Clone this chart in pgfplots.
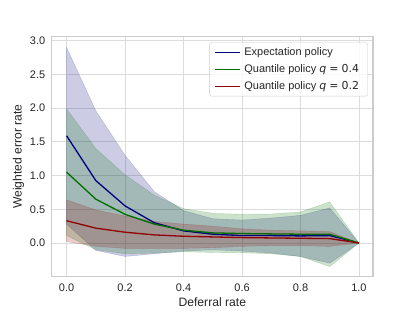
\documentclass[border=0pt]{standalone}
\usepackage{fontspec}
\setmainfont{Liberation Sans}
\newfontfamily\dejavu{DejaVu Sans}
\usepackage{pgfplots}
\pgfplotsset{compat=1.18}
\definecolor{txt}{RGB}{38,38,38}
\definecolor{gridc}{RGB}{220,220,220}
\definecolor{spine}{RGB}{204,204,204}
\definecolor{cblue}{RGB}{0,0,128}
\definecolor{cgreen}{RGB}{0,110,0}
\definecolor{cred}{RGB}{145,0,0}
\begin{document}
\begin{tikzpicture}
\path[fill=white] (0,0) rectangle (415bp,311bp);
\begin{axis}[
  at={(51.7bp,34.3bp)}, anchor=south west,
  width=321.3bp, height=240bp, scale only axis,
  xmin=-0.051, xmax=1.048, ymin=-0.5, ymax=3.06,
  xtick={0,0.2,0.4,0.6,0.8,1.0},
  ytick={0,0.5,1.0,1.5,2.0,2.5,3.0},
  /pgf/number format/assume math mode=true,
  /pgf/number format/.cd, fixed, fixed zerofill, precision=1, /pgfplots/.cd,
  grid=major,
  grid style={draw=gridc, line width=0.9bp},
  axis line style={draw=spine, line width=1.1bp},
  major tick length=0pt,
  tick label style={font=\fontsize{11}{13}\selectfont, text=txt},
  yticklabel style={xshift=-3bp},
  xticklabel style={yshift=-4bp},
  label style={font=\fontsize{12.2}{14}\selectfont, text=txt},
  xlabel={Deferral rate},
  ylabel={Weighted error rate},
  xlabel style={yshift=1bp},
  ylabel style={yshift=-1bp},
  legend cell align=left,
  legend style={at={(axis description cs:0.9835,0.9767)}, anchor=north east,
    font=\fontsize{11}{13}\selectfont, text=txt,
    draw=spine, rounded corners=2bp, fill=white, fill opacity=0.8, text opacity=1,
    inner xsep=4.5bp, inner ysep=3bp, row sep=3.5bp,
    nodes={inner xsep=4bp}},
  legend image code/.code={\draw[mark repeat=2,mark phase=2, line width=1.3bp] plot coordinates {(0bp,0bp) (12.5bp,0bp) (25bp,0bp)};},
]
% bands
\addplot[forget plot, fill=cblue, fill opacity=0.2, draw=cblue, draw opacity=0.2] coordinates {
 (0,2.90) (0.1,1.96) (0.2,1.30) (0.3,0.76) (0.4,0.48) (0.5,0.36) (0.6,0.34) (0.7,0.37) (0.8,0.41) (0.9,0.52) (1.0,0)
 (0.9,-0.30) (0.8,-0.20) (0.7,-0.15) (0.6,-0.12) (0.5,-0.10) (0.4,-0.12) (0.3,-0.16) (0.2,-0.20) (0.1,-0.11) (0,0.28)} -- cycle;
\addplot[forget plot, fill=cgreen, fill opacity=0.2, draw=cgreen, draw opacity=0.2] coordinates {
 (0,1.99) (0.1,1.40) (0.2,1.01) (0.3,0.71) (0.4,0.51) (0.5,0.44) (0.6,0.425) (0.7,0.43) (0.8,0.46) (0.9,0.61) (1.0,0)
 (0.9,-0.35) (0.8,-0.20) (0.7,-0.16) (0.6,-0.145) (0.5,-0.14) (0.4,-0.13) (0.3,-0.15) (0.2,-0.16) (0.1,-0.10) (0,0.11)} -- cycle;
\addplot[forget plot, fill=cred, fill opacity=0.2, draw=cred, draw opacity=0.2] coordinates {
 (0,0.64) (0.1,0.49) (0.2,0.40) (0.3,0.32) (0.4,0.28) (0.5,0.25) (0.6,0.21) (0.7,0.19) (0.8,0.18) (0.9,0.17) (1.0,0)
 (0.9,-0.05) (0.8,-0.04) (0.7,-0.04) (0.6,-0.05) (0.5,-0.07) (0.4,-0.08) (0.3,-0.08) (0.2,-0.08) (0.1,-0.05) (0,0.02)} -- cycle;
% means
\addplot[cblue, line width=1.3bp] coordinates {
 (0,1.59) (0.1,0.925) (0.2,0.55) (0.3,0.30) (0.4,0.18) (0.5,0.13) (0.6,0.11) (0.7,0.11) (0.8,0.105) (0.9,0.11) (1.0,0)};
\addlegendentry{Expectation policy}
\addplot[cgreen, line width=1.3bp] coordinates {
 (0,1.05) (0.1,0.65) (0.2,0.425) (0.3,0.28) (0.4,0.19) (0.5,0.15) (0.6,0.14) (0.7,0.135) (0.8,0.13) (0.9,0.13) (1.0,0)};
\addlegendentry{Quantile policy {\dejavu\textit{q}\;=\;0.4}}
\addplot[cred, line width=1.3bp] coordinates {
 (0,0.33) (0.1,0.22) (0.2,0.16) (0.3,0.12) (0.4,0.10) (0.5,0.09) (0.6,0.08) (0.7,0.075) (0.8,0.07) (0.9,0.065) (1.0,0)};
\addlegendentry{Quantile policy {\dejavu\textit{q}\;=\;0.2}}
\end{axis}
\end{tikzpicture}
\end{document}
